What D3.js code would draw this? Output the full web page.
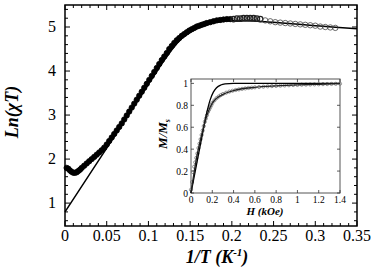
<!DOCTYPE html>
<html>
<head>
<meta charset="utf-8">
<script src="https://d3js.org/d3.v7.min.js"></script>
<style>
  body { margin: 0; background: #fff; }
</style>
</head>
<body>
<div id="chart"></div>
<script>
var SERIF = 'Liberation Serif';

// main panel: Ln(chi T) vs 1/T
var invT = [0.002, 0.004, 0.006, 0.008, 0.010, 0.012, 0.014, 0.016, 0.018, 0.020,
  0.023, 0.026, 0.029, 0.032, 0.035, 0.038, 0.041, 0.044, 0.047, 0.050,
  0.053, 0.056, 0.059, 0.062, 0.065, 0.068, 0.071, 0.074, 0.077, 0.080,
  0.083, 0.086, 0.089, 0.092, 0.095, 0.098, 0.101, 0.104, 0.107, 0.110,
  0.113, 0.116, 0.119, 0.122, 0.125, 0.128, 0.131, 0.134, 0.137, 0.140,
  0.143, 0.146, 0.149, 0.152, 0.155, 0.158, 0.161, 0.164, 0.167, 0.170,
  0.174, 0.178, 0.182, 0.186, 0.190, 0.194, 0.198];
var lnChiT = [1.80, 1.78, 1.74, 1.71, 1.69, 1.69, 1.70, 1.73, 1.76, 1.80,
  1.85, 1.90, 1.95, 2.00, 2.05, 2.10, 2.15, 2.20, 2.26, 2.33,
  2.41, 2.49, 2.57, 2.65, 2.73, 2.81, 2.90, 2.99, 3.08, 3.17,
  3.26, 3.35, 3.44, 3.53, 3.62, 3.71, 3.80, 3.89, 3.98, 4.07,
  4.16, 4.25, 4.33, 4.41, 4.50, 4.57, 4.64, 4.70, 4.75, 4.80,
  4.84, 4.88, 4.92, 4.95, 4.98, 5.01, 5.03, 5.05, 5.07, 5.09,
  5.11, 5.13, 5.15, 5.16, 5.17, 5.18, 5.18];
var invTOpen = [0.202, 0.206, 0.210, 0.214, 0.218, 0.222, 0.226, 0.230, 0.234,
  0.240, 0.246, 0.252, 0.258, 0.264, 0.270, 0.276, 0.282, 0.288, 0.294,
  0.300, 0.306, 0.312, 0.318, 0.324];
var lnChiTOpen = [5.18, 5.19, 5.19, 5.20, 5.20, 5.20, 5.20, 5.19, 5.18,
  5.15, 5.13, 5.11, 5.10, 5.09, 5.08, 5.07, 5.06, 5.05, 5.04,
  5.03, 5.01, 5.00, 4.99, 4.98];
var fitInvT = [0, 0.02, 0.04, 0.06, 0.08, 0.10, 0.11, 0.12, 0.13, 0.14, 0.15,
  0.16, 0.17, 0.18, 0.19, 0.20, 0.22, 0.24, 0.26, 0.28, 0.30, 0.32, 0.35];
var fitLn = [0.80, 1.38, 1.96, 2.54, 3.12, 3.70, 3.99, 4.27, 4.53, 4.74, 4.88,
  4.98, 5.05, 5.10, 5.13, 5.14, 5.14, 5.12, 5.09, 5.06, 5.03, 5.00, 4.96];
var xTicks = [0, 0.05, 0.1, 0.15, 0.2, 0.25, 0.3, 0.35];
var yTicks = [1, 2, 3, 4, 5];

// inset: M/Ms vs H
var fieldH = [0, 0.01, 0.02, 0.03, 0.04, 0.05, 0.06, 0.07, 0.08, 0.09, 0.10,
  0.11, 0.12, 0.13, 0.14, 0.15, 0.16, 0.17, 0.18, 0.19, 0.20, 0.22, 0.24,
  0.26, 0.28, 0.30, 0.33, 0.36, 0.39, 0.42, 0.45, 0.48, 0.51, 0.54, 0.57,
  0.60, 0.64, 0.68, 0.72, 0.76, 0.80, 0.84, 0.88, 0.92, 0.96, 1.00, 1.04,
  1.08, 1.12, 1.16, 1.20, 1.24, 1.28, 1.32, 1.36, 1.40];
var magM = [0.03, 0.10, 0.19, 0.24, 0.28, 0.32, 0.36, 0.41, 0.45, 0.49, 0.53,
  0.57, 0.61, 0.65, 0.68, 0.71, 0.74, 0.76, 0.78, 0.80, 0.82, 0.845, 0.865,
  0.88, 0.893, 0.903, 0.915, 0.925, 0.933, 0.94, 0.945, 0.95, 0.954, 0.958, 0.961,
  0.964, 0.967, 0.970, 0.973, 0.975, 0.977, 0.979, 0.981, 0.983, 0.985, 0.986, 0.988,
  0.989, 0.990, 0.991, 0.992, 0.993, 0.994, 0.995, 0.996, 0.997];
var fitAH = [0, 0.04, 0.08, 0.12, 0.15, 0.18, 0.21, 0.24, 0.28, 0.32, 0.40, 0.60, 1.40];
var fitAM = [0, 0.20, 0.40, 0.60, 0.74, 0.85, 0.92, 0.96, 0.985, 0.995, 1.0, 1.0, 1.0];
var fitBH = [0, 0.05, 0.10, 0.15, 0.20, 0.30, 0.40, 0.60, 0.80, 1.00, 1.20, 1.40];
var fitBM = [0, 0.31, 0.53, 0.71, 0.82, 0.90, 0.935, 0.964, 0.977, 0.986, 0.992, 0.997];
var hTicks = [0, 0.2, 0.4, 0.6, 0.8, 1, 1.2, 1.4];
var mTicks = [0, 0.2, 0.4, 0.6, 0.8, 1];

var W = 374, H = 277;
var svg = d3.select('#chart').append('svg')
    .attr('width', W)
    .attr('height', H);

var m = {left: 65, right: 357, top: 5, bottom: 226};
var x = d3.scaleLinear().domain([0, 0.35]).range([m.left, m.right]);
var y = d3.scaleLinear().domain([0.48, 5.5]).range([m.bottom, m.top]);

// ticks on all four sides, pointing inward
function frameTicks(g, sx, sy, major, minor, majLen, minLen) {
  var xr = sx.range(), yr = sy.range();
  function xt(list, len) {
    list.forEach(function(v) {
      g.append('line').attr('x1', sx(v)).attr('x2', sx(v)).attr('y1', yr[0]).attr('y2', yr[0] - len);
      g.append('line').attr('x1', sx(v)).attr('x2', sx(v)).attr('y1', yr[1]).attr('y2', yr[1] + len);
    });
  }
  function yt(list, len) {
    list.forEach(function(v) {
      g.append('line').attr('y1', sy(v)).attr('y2', sy(v)).attr('x1', xr[0]).attr('x2', xr[0] + len);
      g.append('line').attr('y1', sy(v)).attr('y2', sy(v)).attr('x1', xr[1]).attr('x2', xr[1] - len);
    });
  }
  xt(major.x, majLen); xt(minor.x, minLen);
  yt(major.y, majLen); yt(minor.y, minLen);
}

var main = svg.append('g');
var ticksG = main.append('g').attr('stroke', '#000').attr('stroke-width', 1);
frameTicks(ticksG, x, y,
  {x: xTicks, y: yTicks},
  {x: d3.range(0, 0.351, 0.01).filter(function(v) { return Math.abs(v / 0.05 - Math.round(v / 0.05)) > 0.01; }),
   y: d3.range(0.6, 5.5, 0.2).filter(function(v) { return Math.abs(v - Math.round(v)) > 0.01; })},
  5, 3);

main.append('rect')
    .attr('x', m.left).attr('y', m.top)
    .attr('width', m.right - m.left).attr('height', m.bottom - m.top)
    .attr('fill', 'none').attr('stroke', '#000').attr('stroke-width', 1.5);

main.selectAll('.xt').data(xTicks).enter().append('text')
    .attr('x', function(d) { return x(d); })
    .attr('y', 241)
    .attr('text-anchor', 'middle')
    .attr('font-family', SERIF)
    .attr('font-size', 16)
    .text(function(d) { return d; });

main.selectAll('.yt').data(yTicks).enter().append('text')
    .attr('x', 56)
    .attr('y', function(d) { return y(d) + 5; })
    .attr('text-anchor', 'end')
    .attr('font-family', SERIF)
    .attr('font-size', 16)
    .text(function(d) { return d; });

var xl = main.append('text')
    .attr('x', 217).attr('y', 263)
    .attr('text-anchor', 'middle')
    .attr('font-family', SERIF)
    .attr('font-size', 18).attr('font-weight', 'bold').attr('font-style', 'italic');
xl.append('tspan').text('1/T (K');
xl.append('tspan').attr('font-size', 11).attr('dy', -7).text('-1');
xl.append('tspan').attr('dy', 7).text(')');

main.append('text')
    .attr('transform', 'translate(18,' + 112 + ') rotate(-90)')
    .attr('text-anchor', 'middle')
    .attr('font-family', SERIF)
    .attr('font-size', 18).attr('font-weight', 'bold').attr('font-style', 'italic')
    .text('Ln(χT)');

var line = d3.line().x(function(d) { return x(d[0]); }).y(function(d) { return y(d[1]); }).curve(d3.curveMonotoneX);

main.append('path')
    .datum(d3.zip(fitInvT, fitLn))
    .attr('d', line)
    .attr('fill', 'none').attr('stroke', '#000').attr('stroke-width', 1.5);

main.selectAll('.pf').data(d3.zip(invT, lnChiT)).enter().append('circle')
    .attr('cx', function(d) { return x(d[0]); })
    .attr('cy', function(d) { return y(d[1]); })
    .attr('r', 2.7)
    .attr('fill', '#000').attr('stroke', '#000').attr('stroke-width', 0.8);

main.selectAll('.po').data(d3.zip(invTOpen, lnChiTOpen)).enter().append('circle')
    .attr('cx', function(d) { return x(d[0]); })
    .attr('cy', function(d) { return y(d[1]); })
    .attr('r', 2.7)
    .attr('fill', 'none').attr('stroke', function(d) { return d[0] < 0.236 ? '#222' : '#444'; })
    .attr('stroke-width', function(d) { return d[0] < 0.236 ? 1.3 : 0.8; });

// inset
var im = {left: 191, right: 340, top: 79, bottom: 193};
var ix = d3.scaleLinear().domain([0, 1.4]).range([im.left, im.right]);
var iy = d3.scaleLinear().domain([0, 1.04]).range([im.bottom, im.top]);
var inset = svg.append('g');

inset.append('rect')
    .attr('x', im.left).attr('y', im.top)
    .attr('width', im.right - im.left).attr('height', im.bottom - im.top)
    .attr('fill', '#fff').attr('stroke', '#555').attr('stroke-width', 1);

var iticks = inset.append('g').attr('stroke', '#333').attr('stroke-width', 0.8);
frameTicks(iticks, ix, iy, {x: hTicks, y: mTicks}, {x: [], y: []}, 3, 2);

inset.selectAll('.ht').data(hTicks).enter().append('text')
    .attr('x', function(d) { return ix(d); })
    .attr('y', 202.5)
    .attr('text-anchor', 'middle')
    .attr('font-family', SERIF)
    .attr('font-size', 9.5)
    .text(function(d) { return d; });

inset.selectAll('.mt').data(mTicks).enter().append('text')
    .attr('x', 188)
    .attr('y', function(d) { return iy(d) + 3.5; })
    .attr('text-anchor', 'end')
    .attr('font-family', SERIF)
    .attr('font-size', 9.5)
    .text(function(d) { return d; });

inset.append('text')
    .attr('x', 265).attr('y', 215)
    .attr('text-anchor', 'middle')
    .attr('font-family', SERIF)
    .attr('font-size', 11).attr('font-weight', 'bold').attr('font-style', 'italic')
    .text('H (kOe)');

var ml = inset.append('text')
    .attr('transform', 'translate(167,' + 134 + ') rotate(-90)')
    .attr('text-anchor', 'middle')
    .attr('font-family', SERIF)
    .attr('font-size', 13).attr('font-weight', 'bold').attr('font-style', 'italic');
ml.append('tspan').text('M/M');
ml.append('tspan').attr('font-size', 8).attr('dy', 3).text('s');

var iline = d3.line().x(function(d) { return ix(d[0]); }).y(function(d) { return iy(d[1]); }).curve(d3.curveMonotoneX);

inset.selectAll('.ip').data(d3.zip(fieldH, magM)).enter().append('circle')
    .attr('cx', function(d) { return ix(d[0]); })
    .attr('cy', function(d) { return iy(d[1]); })
    .attr('r', 1.6)
    .attr('fill', 'none').attr('stroke', '#777').attr('stroke-width', 0.8);

inset.append('path')
    .datum(d3.zip(fitAH, fitAM))
    .attr('d', iline)
    .attr('fill', 'none').attr('stroke', '#000').attr('stroke-width', 1.3);

inset.append('path')
    .datum(d3.zip(fitBH, fitBM))
    .attr('d', iline)
    .attr('fill', 'none').attr('stroke', '#222').attr('stroke-width', 1.3);
</script>
</body>
</html>
